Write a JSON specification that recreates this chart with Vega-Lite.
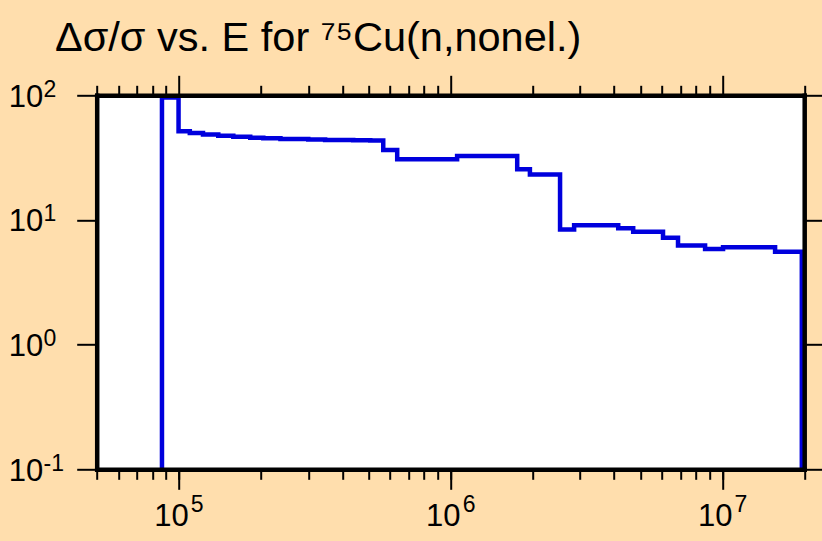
{
  "$schema": "https://vega.github.io/schema/vega-lite/v6.json",
  "width": 707.5,
  "height": 374,
  "autosize": {"type": "none"},
  "padding": {"left": 96.7, "top": 95.3, "right": 17.8, "bottom": 71.7},
  "background": "#ffdead",
  "title": {
    "text": "Δσ/σ vs. E for ⁷⁵Cu(n,nonel.)",
    "anchor": "start",
    "frame": "group",
    "dx": -41.7,
    "dy": 40,
    "offset": 22,
    "baseline": "alphabetic",
    "fontSize": 41.5,
    "font": "Liberation Sans",
    "fontWeight": "normal",
    "color": "#000000"
  },
  "data": {
    "values": [
      {"i": 0, "E": 86900, "v": 0.001},
      {"i": 1, "E": 86900, "v": 96},
      {"i": 2, "E": 100000, "v": 51.4},
      {"i": 3, "E": 110000, "v": 49.9},
      {"i": 4, "E": 123000, "v": 48.5},
      {"i": 5, "E": 140000, "v": 47.4},
      {"i": 6, "E": 159000, "v": 46.6},
      {"i": 7, "E": 183500, "v": 45.7},
      {"i": 8, "E": 205000, "v": 45.2},
      {"i": 9, "E": 237000, "v": 44.6},
      {"i": 10, "E": 300000, "v": 44.2},
      {"i": 11, "E": 346000, "v": 43.8},
      {"i": 12, "E": 439000, "v": 43.6},
      {"i": 13, "E": 507000, "v": 43.3},
      {"i": 14, "E": 566000, "v": 36.4},
      {"i": 15, "E": 637000, "v": 30.7},
      {"i": 16, "E": 1058000, "v": 32.6},
      {"i": 17, "E": 1760000, "v": 25.5},
      {"i": 18, "E": 1960000, "v": 23.2},
      {"i": 19, "E": 2530000, "v": 8.39},
      {"i": 20, "E": 2850000, "v": 9.07},
      {"i": 21, "E": 4140000, "v": 8.6},
      {"i": 22, "E": 4700000, "v": 8.05},
      {"i": 23, "E": 6050000, "v": 7.2},
      {"i": 24, "E": 6870000, "v": 6.24},
      {"i": 25, "E": 8640000, "v": 5.85},
      {"i": 26, "E": 10060000, "v": 6.04},
      {"i": 27, "E": 15630000, "v": 5.57},
      {"i": 28, "E": 19600000, "v": 5.57},
      {"i": 29, "E": 19600000, "v": 0.001}
    ]
  },
  "layer": [
    {
      "mark": {"type": "line", "interpolate": "step-after", "color": "#0000dd", "strokeWidth": 4.5, "clip": true},
      "encoding": {
        "x": {
          "field": "E", "type": "quantitative",
          "scale": {"type": "log", "domain": [50000, 20000000], "nice": false},
          "axis": {
            "orient": "bottom", "values": [100000, 1000000, 10000000],
            "tickSize": 20, "tickWidth": 2, "tickColor": "#000000",
            "domain": true, "domainWidth": 4.5, "domainColor": "#000000", "domainCap": "square",
            "labelExpr": "'10'", "labelFontSize": 31, "labelFont": "Liberation Sans", "labelColor": "#000000",
            "labelBaseline": "alphabetic", "labelPadding": 35.7, "labelOffset": -7.6, "labelAlign": "center",
            "labelOverlap": false, "labelFlush": false, "labelBound": false,
            "grid": false, "title": null, "zindex": 1
          }
        },
        "y": {
          "field": "v", "type": "quantitative",
          "scale": {"type": "log", "domain": [0.1, 100], "nice": false},
          "axis": {
            "orient": "left", "values": [0.1, 1, 10, 100],
            "tickSize": 20, "tickWidth": 2, "tickColor": "#000000",
            "domain": true, "domainWidth": 4.5, "domainColor": "#000000", "domainCap": "square",
            "labelExpr": "'10'", "labelFontSize": 31, "labelFont": "Liberation Sans", "labelColor": "#000000",
            "labelBaseline": "middle", "labelPadding": 34, "labelOffset": 2, "labelAlign": "right",
            "labelOverlap": false, "labelFlush": false, "labelBound": false,
            "grid": false, "title": null, "zindex": 1
          }
        },
        "order": {"field": "i", "type": "quantitative"}
      }
    },
    {
      "mark": {"type": "line", "opacity": 0},
      "encoding": {
        "x": {
          "field": "E", "type": "quantitative",
          "axis": {
            "orient": "bottom",
            "values": [50000, 60000, 70000, 80000, 90000, 100000, 200000, 300000, 400000, 500000, 600000, 700000, 800000, 900000, 1000000, 2000000, 3000000, 4000000, 5000000, 6000000, 7000000, 8000000, 9000000, 10000000, 20000000],
            "tickSize": 10, "tickWidth": 2, "tickColor": "#000000",
            "domain": false,
            "labelExpr": "abs(log(datum.value)/LN10 - round(log(datum.value)/LN10)) < 0.01 ? '' + round(log(datum.value)/LN10) : ''",
            "labelFontSize": 23, "labelFont": "Liberation Sans", "labelColor": "#000000",
            "labelBaseline": "alphabetic", "labelPadding": 31.7, "labelOffset": 11.7, "labelAlign": "left",
            "labelOverlap": false, "labelFlush": false, "labelBound": false,
            "grid": false, "title": null, "zindex": 1
          }
        },
        "y": {
          "field": "v", "type": "quantitative",
          "axis": {
            "orient": "left", "values": [0.1, 1, 10, 100],
            "ticks": false, "tickSize": 0, "domain": false,
            "labelExpr": "'' + round(log(datum.value)/LN10)",
            "labelFontSize": 23, "labelFont": "Liberation Sans", "labelColor": "#000000",
            "labelBaseline": "middle", "labelPadding": 53.7, "labelOffset": -6.3, "labelAlign": "left",
            "labelOverlap": false, "labelFlush": false, "labelBound": false,
            "grid": false, "title": null, "zindex": 1
          }
        },
        "order": {"field": "i", "type": "quantitative"}
      }
    },
    {
      "mark": {"type": "line", "opacity": 0},
      "encoding": {
        "x": {
          "field": "E", "type": "quantitative",
          "axis": {
            "orient": "top",
            "values": [50000, 60000, 70000, 80000, 90000, 100000, 200000, 300000, 400000, 500000, 600000, 700000, 800000, 900000, 1000000, 2000000, 3000000, 4000000, 5000000, 6000000, 7000000, 8000000, 9000000, 10000000, 20000000],
            "tickSize": {"condition": {"test": "abs(log(datum.value)/LN10 - round(log(datum.value)/LN10)) < 0.01", "value": 20}, "value": 10},
            "tickWidth": 2, "tickColor": "#000000",
            "domain": true, "domainWidth": 4.5, "domainColor": "#000000", "domainCap": "square",
            "labels": false, "grid": false, "title": null, "zindex": 1
          }
        },
        "y": {
          "field": "v", "type": "quantitative",
          "axis": {
            "orient": "right", "values": [0.1, 1, 10, 100],
            "tickSize": 20, "tickWidth": 2, "tickColor": "#000000",
            "domain": true, "domainWidth": 4.5, "domainColor": "#000000", "domainCap": "square",
            "labels": false, "grid": false, "title": null, "zindex": 1
          }
        },
        "order": {"field": "i", "type": "quantitative"}
      }
    }
  ],
  "resolve": {"axis": {"x": "independent", "y": "independent"}},
  "config": {
    "view": {"fill": "#ffffff", "stroke": null},
    "axis": {"grid": false}
  }
}
